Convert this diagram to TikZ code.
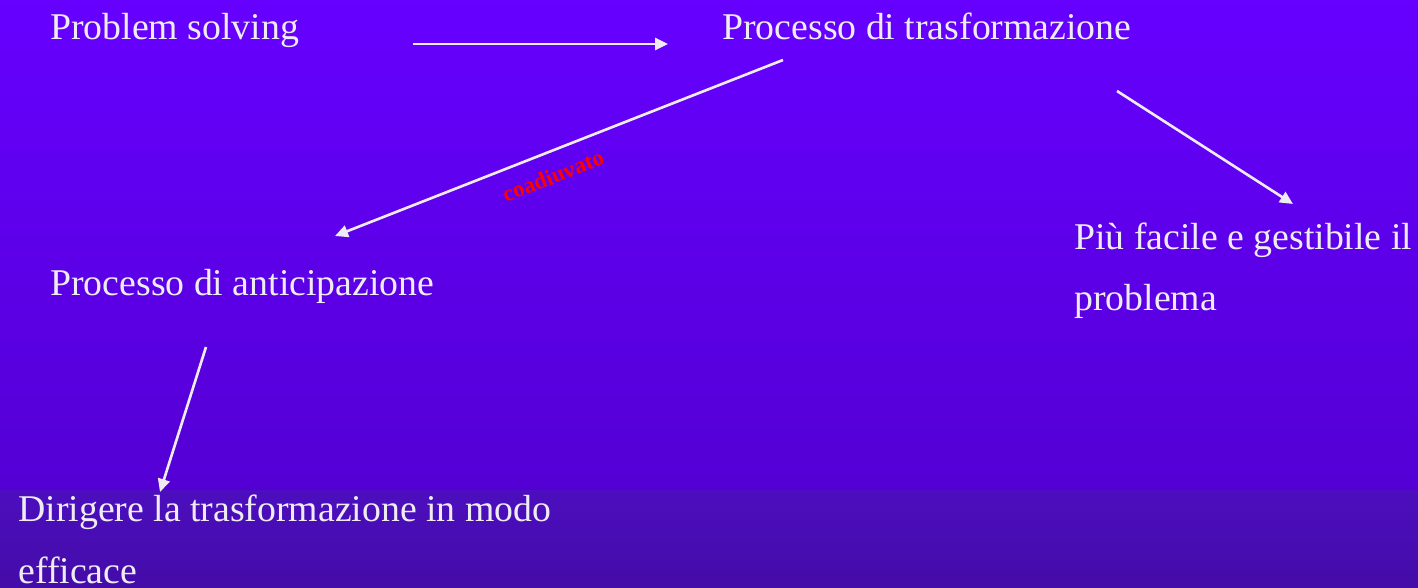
\documentclass[tikz,border=0pt]{standalone}
\usepackage{fontspec}
\setmainfont{Liberation Serif}
\definecolor{slidetop}{RGB}{102, 0, 255}
\definecolor{slidebot}{RGB}{84, 0, 212}
\definecolor{bandtop}{RGB}{76, 14, 190}
\definecolor{bandbot}{RGB}{68, 12, 168}
\definecolor{chalk}{RGB}{238, 236, 242}
\usetikzlibrary{arrows.meta, positioning}

\begin{document}
\begin{tikzpicture}[
  x=0.02cm, y=-0.02cm,
  lbl/.style={anchor=base west, inner sep=0pt, text=chalk, align=left,
    font=\fontsize{21.5}{35}\selectfont},
  link/.style={draw=chalk, line width=1.5pt, -{Triangle[length=0.26cm, width=0.24cm]}}
]
  % background
  \path[use as bounding box, clip] (0,0) rectangle (1418,588);
  \shade[top color=slidetop, bottom color=slidebot] (0,0) rectangle (1418,490);
  \shade[top color=bandtop, bottom color=bandbot] (0,490) rectangle (1418,588);

  % multi-line nodes sit on the baseline of their last line
  \node[lbl] (ps) at (50,40) {Problem solving};
  \node[lbl] (pt) at (722,40) {Processo di trasformazione};
  \node[lbl] (pa) at (50,296) {Processo di anticipazione};
  \node[lbl] (pf) at (1074,311) {Più facile e gestibile il\\problema};
  \node[lbl] (dt) at (18,583) {Dirigere la trasformazione in modo\\efficace};

  \coordinate (ps-out) at (413,44);
  \coordinate (pt-in) at (668,44);
  \coordinate (pt-left) at (783,60);
  \coordinate (pa-in) at (335,236);
  \coordinate (pt-right) at (1117,91);
  \coordinate (pf-in) at (1293,204);
  \coordinate (pa-out) at (206,347);
  \coordinate (dt-in) at (160,492);

  \draw[link] (ps-out) -- (pt-in);
  \draw[link] (pt-left) -- (pa-in);
  \node[text=red, rotate=21.4, inner sep=0pt, font=\fontsize{13}{15}\selectfont\bfseries]
    (co) at (553,176) {coadiuvato};
  \draw[link] (pt-right) -- (pf-in);
  \draw[link] (pa-out) -- (dt-in);
\end{tikzpicture}
\end{document}
